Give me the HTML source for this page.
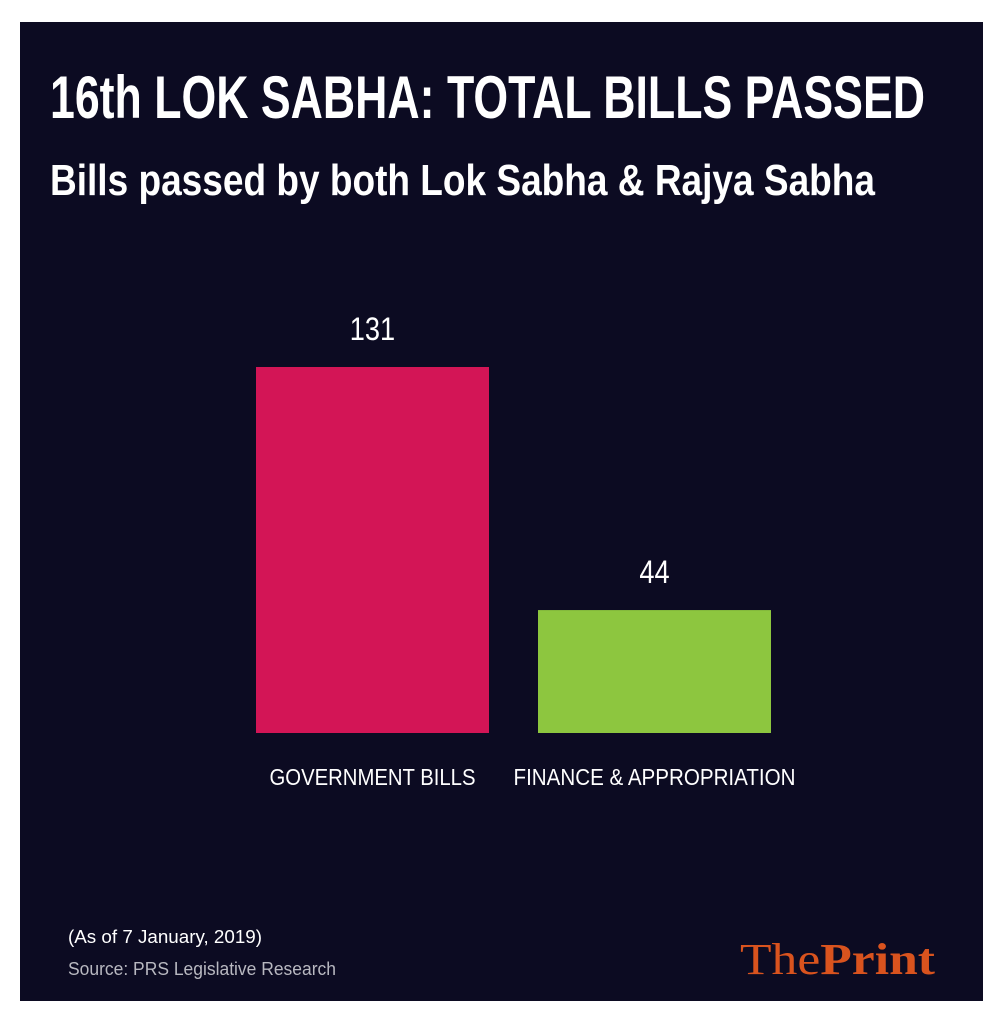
<!DOCTYPE html>
<html><head><meta charset="utf-8"><style>
html,body{margin:0;padding:0;background:#fff;}
svg{display:block;}
</style></head><body>
<svg width="1000" height="1024" viewBox="0 0 1000 1024">
<rect x="20" y="22" width="963" height="979" fill="#0c0b22"/>
<text x="50" y="118" font-family="Liberation Sans, sans-serif" font-size="60" font-weight="bold" fill="#fff" textLength="875" lengthAdjust="spacingAndGlyphs">16th LOK SABHA: TOTAL BILLS PASSED</text>
<text x="50" y="195" font-family="Liberation Sans, sans-serif" font-size="44" font-weight="bold" fill="#fff" textLength="825" lengthAdjust="spacingAndGlyphs">Bills passed by both Lok Sabha &amp; Rajya Sabha</text>
<g id="bars"></g>
<text x="68" y="943" font-family="Liberation Sans, sans-serif" font-size="18" fill="#fff" textLength="194" lengthAdjust="spacingAndGlyphs">(As of 7 January, 2019)</text>
<text x="68" y="975" font-family="Liberation Sans, sans-serif" font-size="18" fill="#b8b8c0" textLength="268" lengthAdjust="spacingAndGlyphs">Source: PRS Legislative Research</text>
<text x="740" y="974" font-family="Liberation Serif, serif" font-size="44" fill="#d9531e" textLength="195" lengthAdjust="spacingAndGlyphs">The<tspan font-weight="bold">Print</tspan></text>
</svg>
<script>
const categories = ["GOVERNMENT BILLS", "FINANCE & APPROPRIATION"];
const values = [131, 44];
const colors = ["#d31556", "#8dc63f"];
const labelWidths = [206, 282];
const baseY = 733, pxPerUnit = 366/131;
const yScale = v => baseY - v * pxPerUnit;
const xStart = i => 256 + i * 282, barW = 233;
const g = document.getElementById('bars');
const NS = 'http://www.w3.org/2000/svg';
values.forEach((v, i) => {
  const r = document.createElementNS(NS, 'rect');
  r.setAttribute('x', xStart(i)); r.setAttribute('y', yScale(v));
  r.setAttribute('width', barW); r.setAttribute('height', baseY - yScale(v));
  r.setAttribute('fill', colors[i]);
  
  
  g.appendChild(r);
  const t = document.createElementNS(NS, 'text');
  t.setAttribute('x', xStart(i) + barW/2); t.setAttribute('y', yScale(v) - 27);
  t.setAttribute('text-anchor', 'middle'); t.setAttribute('fill', '#fff');
  t.setAttribute('font-family', 'Liberation Sans, sans-serif'); t.setAttribute('font-size', '32');
  t.setAttribute('transform', 'translate(' + (xStart(i) + barW/2) + ',0) scale(0.85,1) translate(' + (-(xStart(i) + barW/2)) + ',0)');
  t.textContent = v;
  
  
  g.appendChild(t);
  const l = document.createElementNS(NS, 'text');
  l.setAttribute('x', xStart(i) + barW/2); l.setAttribute('y', 785);
  l.setAttribute('text-anchor', 'middle'); l.setAttribute('fill', '#fff');
  l.setAttribute('font-family', 'Liberation Sans, sans-serif'); l.setAttribute('font-size', '23');
  l.setAttribute('textLength', labelWidths[i]); l.setAttribute('lengthAdjust', 'spacingAndGlyphs');
  l.textContent = categories[i];
  
  
  g.appendChild(l);
});
</script>
</body></html>
